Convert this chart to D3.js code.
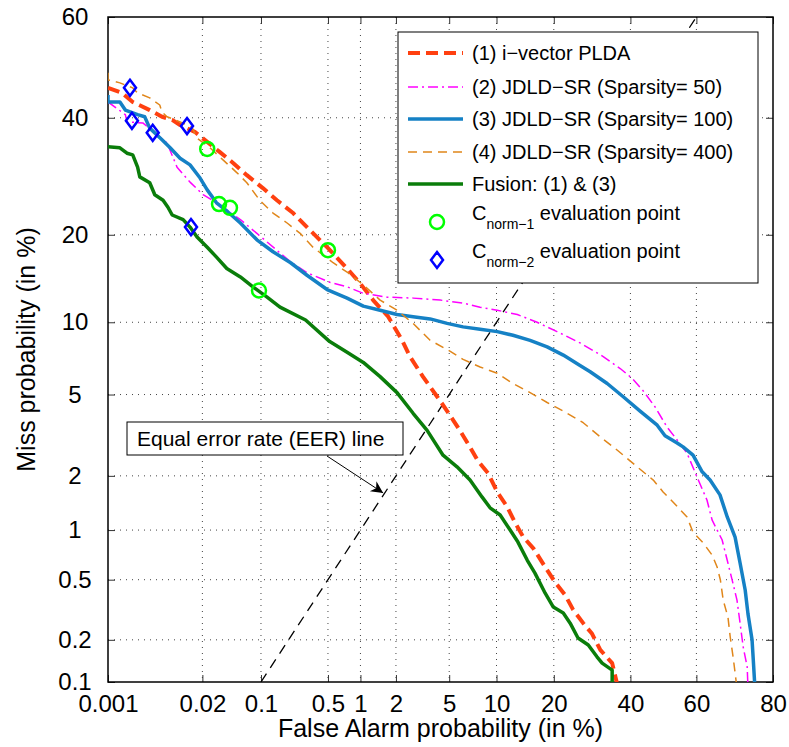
<!DOCTYPE html>
<html>
<head>
<meta charset="utf-8">
<script src="https://cdn.jsdelivr.net/npm/d3@7"></script>
<style>
  body { margin: 0; background: #fff; }
  svg { font-family: "Liberation Sans", Arial, Helvetica, sans-serif; }
</style>
</head>
<body>
<svg id="chart" width="789" height="747"></svg>
<script>
// DET plot values, all in %: [false alarm, miss]
var xTicks = [0.001, 0.02, 0.1, 0.5, 1, 2, 5, 10, 20, 40, 60, 80];
var yTicks = [0.1, 0.2, 0.5, 1, 2, 5, 10, 20, 40, 60];

var plda = [[0.001,45.9],[0.0016,44.9],[0.0023,43.1],[0.0040,41.5],[0.0059,40.2],[0.0081,39.6],[0.0103,38.6],
  [0.016,37.3],[0.023,35.4],[0.033,33.5],[0.048,31.5],[0.069,29.4],[0.105,27.2],[0.150,25.2],[0.223,23.2],
  [0.31,21.1],[0.49,18.3],[0.757,15.6],[0.99,13.9],[1.29,12.1],[1.73,10.5],[2.24,8.5],[2.58,7.3],[3.24,6.0],
  [4.11,4.9],[4.84,4.2],[5.9,3.4],[6.9,2.8],[7.7,2.4],[8.9,2.07],[10.1,1.64],[11.5,1.36],[12.7,1.11],[14.1,0.91],
  [15.9,0.78],[18.2,0.60],[20.3,0.48],[22.5,0.40],[24.4,0.32],[26.9,0.26],[29.2,0.22],[31.4,0.17],[34.7,0.137],[36.4,0.09]];

var sr50 = [[0.001,43.1],[0.0018,40.6],[0.0019,39.2],[0.0032,39.0],[0.0069,35.2],[0.0094,30.8],[0.0139,28.2],
  [0.0204,26.1],[0.030,24.8],[0.058,22.2],[0.090,20.2],[0.21,16.4],[0.31,15.1],[0.52,14.0],[0.757,13.5],[1.06,12.8],
  [1.69,12.4],[2.73,12.3],[4.32,12.1],[6.2,11.8],[7.96,11.4],[10.1,11.1],[13.1,10.7],[16.6,10.0],[20.7,9.2],
  [26.1,8.3],[32.2,7.3],[37.0,6.5],[40.5,5.9],[43.8,5.2],[47.4,4.4],[51.1,3.53],[54.2,3.05],[57.2,2.62],[60.2,1.97],
  [63.1,1.48],[64.6,1.14],[67.4,0.875],[68.8,0.66],[70.1,0.50],[71.4,0.37],[72.2,0.26],[73.0,0.178],[74.0,0.129],[74.2,0.09]];

var sr100 = [[0.001,44.5],[0.001,43.1],[0.0015,43.1],[0.0018,41.5],[0.0027,40.6],[0.0034,40.2],[0.0040,38.0],
  [0.0059,35.8],[0.0076,34.3],[0.0103,32.4],[0.0139,31.2],[0.0187,28.9],[0.023,26.9],[0.030,24.8],[0.041,23.4],
  [0.058,21.7],[0.090,19.3],[0.136,17.7],[0.21,16.3],[0.31,14.8],[0.49,13.2],[0.757,12.3],[1.06,11.5],[1.48,11.1],
  [2.04,10.7],[2.73,10.5],[3.66,10.3],[4.84,9.9],[6.2,9.6],[7.96,9.4],[10.1,9.2],[12.4,8.9],[15.3,8.5],[18.6,8.0],
  [22.1,7.4],[26.1,6.7],[28.7,6.3],[33.3,5.6],[37.8,4.9],[42.9,4.2],[48.1,3.6],[50.5,3.2],[54.2,2.95],[56.0,2.82],
  [59.0,2.56],[61.7,2.10],[64.0,1.90],[66.8,1.58],[68.8,1.19],[70.9,0.91],[72.2,0.635],[73.5,0.43],[74.2,0.30],
  [75.2,0.20],[75.5,0.144],[75.9,0.09]];

var sr400 = [[0.001,48.9],[0.001,47.5],[0.0015,46.9],[0.0023,45.9],[0.0027,44.9],[0.0040,43.9],[0.0055,42.5],
  [0.0059,41.1],[0.0069,40.2],[0.0103,39.2],[0.0147,38.2],[0.0171,36.1],[0.0249,34.3],[0.036,32.1],[0.053,29.8],
  [0.069,28.1],[0.097,25.2],[0.136,23.2],[0.193,21.7],[0.264,20.2],[0.356,18.3],[0.56,16.3],[0.77,15.1],[1.06,13.7],
  [1.48,12.1],[2.04,11.1],[2.73,9.9],[3.66,8.5],[4.84,7.8],[6.2,7.1],[7.96,6.6],[10.1,6.2],[12.4,5.6],[15.3,5.1],
  [18.6,4.6],[22.1,4.2],[26.9,3.7],[31.4,3.16],[36.1,2.72],[42.0,2.23],[46.9,1.90],[49.9,1.64],[53.0,1.44],[57.2,1.19],
  [59.0,0.97],[62.0,0.84],[64.6,0.71],[66.0,0.60],[66.9,0.50],[67.7,0.37],[69.0,0.285],[69.6,0.21],[70.4,0.15],[71.4,0.09]];

var fusion = [[0.001,34.5],[0.0015,34.3],[0.0019,33.3],[0.0023,33.0],[0.0027,30.8],[0.0029,29.1],[0.0040,28.1],
  [0.0047,26.1],[0.0061,25.2],[0.0071,24.1],[0.0081,22.9],[0.0113,22.2],[0.0139,21.1],[0.0171,19.7],[0.023,18.3],
  [0.030,17.0],[0.040,15.6],[0.058,14.6],[0.081,13.5],[0.117,12.4],[0.162,11.4],[0.30,10.2],[0.52,8.4],[0.757,7.6],
  [1.06,6.9],[1.48,6.0],[2.04,5.1],[2.73,4.1],[3.48,3.4],[4.53,2.56],[5.65,2.23],[6.88,1.90],[8.18,1.54],[9.16,1.34],
  [10.5,1.22],[11.96,1.0],[13.2,0.85],[14.8,0.66],[16.2,0.55],[18.2,0.41],[19.9,0.333],[22.1,0.304],[23.7,0.26],
  [25.6,0.206],[28.2,0.184],[30.5,0.152],[31.9,0.137],[34.7,0.122],[34.7,0.09]];

var cnorm1 = [[0.023,34.1],[0.0322,24.6],[0.0437,24.0],[0.50,17.9],[0.095,13.1]];
var cnorm2 = [[0.0021,45.9],[0.00224,39.4],[0.0044,37.1],[0.0127,38.4],[0.0143,21.1]];

var eerLine = [[0.1,0.1],[60,60]];

var seriesNames = ['(1) i\u2212vector PLDA', '(2) JDLD\u2212SR (Sparsity= 50)', '(3) JDLD\u2212SR (Sparsity= 100)',
  '(4) JDLD\u2212SR (Sparsity= 400)', 'Fusion: (1) & (3)'];

// inverse normal cdf (Acklam)
function probit(p) {
  var a = [-3.969683028665376e+01, 2.209460984245205e+02, -2.759285104469687e+02, 1.383577518672690e+02, -3.066479806614716e+01, 2.506628277459239e+00];
  var b = [-5.447609879822406e+01, 1.615858368580409e+02, -1.556989798598866e+02, 6.680131188771972e+01, -1.328068155288572e+01];
  var c = [-7.784894002430293e-03, -3.223964580411365e-01, -2.400758277161838e+00, -2.549671033488832e+00, 4.374664141464968e+00, 2.938163982698783e+00];
  var d = [7.784695709041462e-03, 3.224671290700398e-01, 2.445134137142996e+00, 3.754408661907416e+00];
  var q, r;
  if (p < 0.02425) {
    q = Math.sqrt(-2 * Math.log(p));
    return (((((c[0]*q+c[1])*q+c[2])*q+c[3])*q+c[4])*q+c[5]) / ((((d[0]*q+d[1])*q+d[2])*q+d[3])*q+1);
  }
  if (p > 1 - 0.02425) {
    q = Math.sqrt(-2 * Math.log(1 - p));
    return -(((((c[0]*q+c[1])*q+c[2])*q+c[3])*q+c[4])*q+c[5]) / ((((d[0]*q+d[1])*q+d[2])*q+d[3])*q+1);
  }
  q = p - 0.5; r = q * q;
  return (((((a[0]*r+a[1])*r+a[2])*r+a[3])*r+a[4])*r+a[5])*q / (((((b[0]*r+b[1])*r+b[2])*r+b[3])*r+b[4])*r+1);
}
function pct(v) { return probit(v / 100); }

var mLeft = 108, mTop = 17, w = 665, h = 665;
var svg = d3.select('#chart');

var x = d3.scaleLinear().domain([pct(0.001), pct(80)]).range([mLeft, mLeft + w]);
var y = d3.scaleLinear().domain([pct(0.1), pct(60)]).range([mTop + h, mTop]);

svg.append('defs').append('clipPath').attr('id', 'clip')
  .append('rect').attr('x', mLeft).attr('y', mTop).attr('width', w).attr('height', h);

//grid
var grid = svg.append('g').attr('stroke', '#444').attr('stroke-width', 1).attr('stroke-dasharray', '1,5');
grid.selectAll('.vg').data(xTicks.slice(1, -1)).enter().append('line')
  .attr('x1', function(d) { return x(pct(d)); }).attr('x2', function(d) { return x(pct(d)); })
  .attr('y1', mTop).attr('y2', mTop + h);
grid.selectAll('.hg').data(yTicks.slice(1, -1)).enter().append('line')
  .attr('y1', function(d) { return y(pct(d)); }).attr('y2', function(d) { return y(pct(d)); })
  .attr('x1', mLeft).attr('x2', mLeft + w);

//axes
var xAxis = svg.append('g').attr('transform', 'translate(0,' + (mTop + h) + ')')
  .call(d3.axisBottom(x).tickValues(xTicks.map(pct)).tickSize(-7).tickPadding(13)
    .tickFormat(function(d, i) { return xTicks[i]; }));
var yAxis = svg.append('g').attr('transform', 'translate(' + mLeft + ',0)')
  .call(d3.axisLeft(y).tickValues(yTicks.map(pct)).tickSize(-7).tickPadding(33)
    .tickFormat(function(d, i) { return yTicks[i]; }));
svg.append('g').attr('transform', 'translate(0,' + mTop + ')')
  .call(d3.axisTop(x).tickValues(xTicks.map(pct)).tickSize(-7).tickFormat(''));
svg.append('g').attr('transform', 'translate(' + (mLeft + w) + ',0)')
  .call(d3.axisRight(y).tickValues(yTicks.map(pct)).tickSize(-7).tickFormat(''));
svg.selectAll('.domain').remove();
svg.selectAll('.tick line').attr('stroke', '#333');
xAxis.selectAll('text').attr('font-size', 24).attr('fill', '#000');
yAxis.selectAll('text').attr('font-size', 24).attr('fill', '#000').attr('text-anchor', 'middle');

svg.append('rect').attr('x', mLeft).attr('y', mTop).attr('width', w).attr('height', h)
  .attr('fill', 'none').attr('stroke', '#000').attr('stroke-width', 1.5);

svg.append('text').attr('x', mLeft + w / 2).attr('y', 737).attr('text-anchor', 'middle')
  .attr('font-size', 25).text('False Alarm probability (in %)');
svg.append('text').attr('transform', 'translate(35,' + (mTop + h / 2) + ') rotate(-90)')
  .attr('text-anchor', 'middle').attr('font-size', 25).text('Miss probability (in %)');

//curves
var line = d3.line().x(function(d) { return x(pct(d[0])); }).y(function(d) { return y(pct(d[1])); });
var styles = [
  {data: plda, color: '#FF4010', width: 4, dash: '12,6'},
  {data: sr50, color: '#FF00FF', width: 1.5, dash: '10,4,2,4'},
  {data: sr100, color: '#1581C5', width: 3.5, dash: null},
  {data: sr400, color: '#E0861A', width: 1.5, dash: '9,6'},
  {data: fusion, color: '#0A7D0A', width: 3.5, dash: null}
];
var plot = svg.append('g').attr('clip-path', 'url(#clip)');

plot.append('path').datum(eerLine).attr('d', line).attr('fill', 'none')
  .attr('stroke', '#000').attr('stroke-width', 1.3).attr('stroke-dasharray', '10,7');

plot.selectAll('.curve').data(styles).enter().append('path')
  .attr('class', 'curve')
  .attr('d', function(d) { return line(d.data); })
  .attr('fill', 'none')
  .attr('stroke', function(d) { return d.color; })
  .attr('stroke-width', function(d) { return d.width; })
  .attr('stroke-dasharray', function(d) { return d.dash; })
  .attr('stroke-linejoin', 'round');

plot.selectAll('.c1').data(cnorm1).enter().append('circle')
  .attr('cx', function(d) { return x(pct(d[0])); })
  .attr('cy', function(d) { return y(pct(d[1])); })
  .attr('r', 7).attr('fill', 'none').attr('stroke', '#00FF00').attr('stroke-width', 2.5);

var diamond = 'M0,-8L6,0L0,8L-6,0Z';
plot.selectAll('.c2').data(cnorm2).enter().append('path')
  .attr('transform', function(d) { return 'translate(' + x(pct(d[0])) + ',' + y(pct(d[1])) + ')'; })
  .attr('d', diamond).attr('fill', 'none').attr('stroke', '#0000FF').attr('stroke-width', 2.5);

//EER annotation
var tipX = x(pct(1.57)), tipY = y(pct(1.62));
svg.append('defs').append('marker').attr('id', 'arrow').attr('viewBox', '0 0 10 10')
  .attr('refX', 10).attr('refY', 5).attr('markerWidth', 20).attr('markerHeight', 12)
  .attr('markerUnits', 'userSpaceOnUse').attr('orient', 'auto')
  .append('path').attr('d', 'M0,0L10,5L0,10L3,5Z').attr('fill', '#000');
svg.append('line').attr('x1', 327).attr('y1', 456).attr('x2', tipX).attr('y2', tipY)
  .attr('stroke', '#000').attr('stroke-width', 1).attr('marker-end', 'url(#arrow)');
svg.append('rect').attr('x', 127).attr('y', 422).attr('width', 276).attr('height', 33)
  .attr('fill', '#fff').attr('stroke', '#000').attr('stroke-width', 1);
svg.append('text').attr('x', 137).attr('y', 446).attr('font-size', 21)
  .text('Equal error rate (EER) line');

//legend
var lg = svg.append('g');
lg.append('rect').attr('x', 398).attr('y', 32).attr('width', 360).attr('height', 251)
  .attr('fill', '#fff').attr('stroke', '#000').attr('stroke-width', 1);
var rowY = [53, 87, 119, 152, 184];
var rows = lg.selectAll('.row').data(styles).enter().append('g')
  .attr('transform', function(d, i) { return 'translate(0,' + rowY[i] + ')'; });
rows.append('line').attr('x1', 408).attr('x2', 463)
  .attr('stroke', function(d) { return d.color; })
  .attr('stroke-width', function(d) { return d.width; })
  .attr('stroke-dasharray', function(d) { return d.dash; });
rows.append('text').attr('x', 472).attr('y', 7).attr('font-size', 20)
  .text(function(d, i) { return seriesNames[i]; });

lg.append('circle').attr('cx', 437).attr('cy', 222).attr('r', 7)
  .attr('fill', 'none').attr('stroke', '#00FF00').attr('stroke-width', 2.5);
lg.append('path').attr('transform', 'translate(437,260)').attr('d', diamond)
  .attr('fill', 'none').attr('stroke', '#0000FF').attr('stroke-width', 2.5);

[['norm\u22121', 220], ['norm\u22122', 258]].forEach(function(r) {
  var t = lg.append('text').attr('x', 472).attr('y', r[1]).attr('font-size', 20);
  t.append('tspan').text('C');
  t.append('tspan').attr('font-size', 14).attr('dy', 9).text(r[0]);
  t.append('tspan').attr('dy', -9).text(' evaluation point');
});
</script>
</body>
</html>
